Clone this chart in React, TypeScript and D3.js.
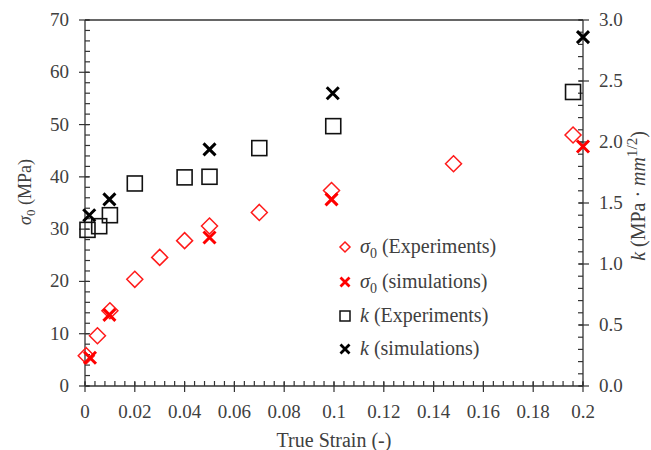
import React, { useEffect, useRef } from "react";
import * as d3 from "d3";

// strain values and measured / simulated quantities
const sigExpStrain = [0.0005, 0.005, 0.01, 0.02, 0.03, 0.04, 0.05, 0.07, 0.099, 0.148, 0.196];
const sigExpVal = [5.8, 9.6, 14.4, 20.4, 24.6, 27.8, 30.6, 33.2, 37.4, 42.5, 48.0];
const sigSimStrain = [0.002, 0.0098, 0.05, 0.099, 0.2];
const sigSimVal = [5.4, 13.6, 28.4, 35.7, 45.8];
const kExpStrain = [0.001, 0.0057, 0.01, 0.02, 0.04, 0.05, 0.07, 0.0997, 0.196];
const kExpVal = [1.28, 1.31, 1.40, 1.66, 1.71, 1.715, 1.95, 2.13, 2.41];
const kSimStrain = [0.0017, 0.0098, 0.05, 0.0995, 0.2];
const kSimVal = [1.40, 1.53, 1.94, 2.40, 2.86];

const xTicks = [0, 0.02, 0.04, 0.06, 0.08, 0.1, 0.12, 0.14, 0.16, 0.18, 0.2];
const yLeftTicks = [0, 10, 20, 30, 40, 50, 60, 70];
const yRightTicks = [0, 0.5, 1.0, 1.5, 2.0, 2.5, 3.0];

const FONT = "'Liberation Serif', 'Times New Roman', serif";
const AX = "#333";
const TXT = "#404040";

function App() {
  const ref = useRef<SVGSVGElement>(null);

  useEffect(() => {
    const svg = d3.select(ref.current);
    svg.selectAll("*").remove();

    const left = 85, right = 583, top = 20, bottom = 386;
    const x = d3.scaleLinear().domain([0, 0.2]).range([left, right]);
    const yL = d3.scaleLinear().domain([0, 70]).range([bottom, top]);
    const yR = d3.scaleLinear().domain([0, 3]).range([bottom, top]);

    const g = svg.append("g");

    // frame: top line + three axes
    g.append("line").attr("x1", left).attr("x2", right).attr("y1", top).attr("y2", top)
      .attr("stroke", AX).attr("stroke-width", 1.3);
    g.append("line").attr("x1", left).attr("x2", left).attr("y1", top).attr("y2", bottom)
      .attr("stroke", AX).attr("stroke-width", 1.3);
    g.append("line").attr("x1", right).attr("x2", right).attr("y1", top).attr("y2", bottom)
      .attr("stroke", AX).attr("stroke-width", 1.3);
    g.append("line").attr("x1", left).attr("x2", right).attr("y1", bottom).attr("y2", bottom)
      .attr("stroke", AX).attr("stroke-width", 1.3);

    // left axis ticks
    const leftMinor = d3.range(0, 70.001, 2);
    g.selectAll(".lmin").data(leftMinor).join("line")
      .attr("x1", left).attr("x2", left + 5)
      .attr("y1", d => yL(d)).attr("y2", d => yL(d))
      .attr("stroke", AX).attr("stroke-width", 1.2);
    g.selectAll(".lmaj").data(yLeftTicks).join("line")
      .attr("x1", left - 6).attr("x2", left + 4)
      .attr("y1", d => yL(d)).attr("y2", d => yL(d))
      .attr("stroke", AX).attr("stroke-width", 1.2);
    g.selectAll(".ltxt").data(yLeftTicks).join("text")
      .attr("x", 69).attr("y", d => yL(d) + 6)
      .attr("text-anchor", "end")
      .style("font-family", FONT).style("font-size", "19px").attr("fill", TXT)
      .text(d => d);

    // right axis ticks
    const rightMinor = d3.range(0, 3.001, 0.1);
    g.selectAll(".rmin").data(rightMinor).join("line")
      .attr("x1", right - 5).attr("x2", right)
      .attr("y1", d => yR(d)).attr("y2", d => yR(d))
      .attr("stroke", AX).attr("stroke-width", 1.2);
    g.selectAll(".rmaj").data(yRightTicks).join("line")
      .attr("x1", right - 4).attr("x2", right + 6)
      .attr("y1", d => yR(d)).attr("y2", d => yR(d))
      .attr("stroke", AX).attr("stroke-width", 1.2);
    g.selectAll(".rtxt").data(yRightTicks).join("text")
      .attr("x", 599).attr("y", d => yR(d) + 6)
      .style("font-family", FONT).style("font-size", "19px").attr("fill", TXT)
      .text(d => d3.format(".1f")(d));

    // bottom axis ticks
    const botMinor = d3.range(0, 0.2001, 0.004);
    g.selectAll(".bmin").data(botMinor).join("line")
      .attr("x1", d => x(d)).attr("x2", d => x(d))
      .attr("y1", bottom - 5).attr("y2", bottom)
      .attr("stroke", AX).attr("stroke-width", 1.2);
    g.selectAll(".bmaj").data(xTicks).join("line")
      .attr("x1", d => x(d)).attr("x2", d => x(d))
      .attr("y1", bottom - 4).attr("y2", bottom + 6)
      .attr("stroke", AX).attr("stroke-width", 1.2);
    g.selectAll(".btxt").data(xTicks).join("text")
      .attr("x", d => x(d)).attr("y", 418)
      .attr("text-anchor", "middle")
      .style("font-family", FONT).style("font-size", "19px").attr("fill", TXT)
      .text(d => (d === 0 ? "0" : String(+d.toFixed(2))));

    // axis titles
    const lt = g.append("text")
      .attr("transform", "translate(31,192) rotate(-90)")
      .attr("text-anchor", "middle")
      .style("font-family", FONT).style("font-size", "18px").attr("fill", TXT);
    lt.append("tspan").style("font-style", "italic").text("σ");
    lt.append("tspan").attr("dy", 4).style("font-size", "13px").text("0");
    lt.append("tspan").attr("dy", -4).text(" (MPa)");

    g.append("text")
      .attr("x", 334).attr("y", 447)
      .attr("text-anchor", "middle")
      .style("font-family", FONT).style("font-size", "20px").attr("fill", TXT)
      .text("True Strain (-)");

    const rt = g.append("text")
      .attr("transform", "translate(645,196) rotate(-90)")
      .attr("text-anchor", "middle")
      .style("font-family", FONT).style("font-size", "20px").attr("fill", TXT);
    rt.append("tspan").style("font-style", "italic").text("k");
    rt.append("tspan").text(" (MPa · ");
    rt.append("tspan").style("font-style", "italic").text("mm");
    rt.append("tspan").attr("dy", -8).style("font-size", "15px").text("1/2");
    rt.append("tspan").attr("dy", 8).text(")");

    // marker helpers
    const diamond = (sel: any, s: number) =>
      sel.attr("d", `M0,${-s}L${s},0L0,${s}L${-s},0Z`);
    const cross = (s: number) => `M${-s},${-s}L${s},${s}M${-s},${s}L${s},${-s}`;

    // k experiments (squares)
    const kE = kExpStrain.map((s, i) => [s, kExpVal[i]]);
    g.selectAll(".kE").data(kE).join("rect")
      .attr("x", d => x(d[0]) - 7.5).attr("y", d => yR(d[1]) - 7.5)
      .attr("width", 15).attr("height", 15)
      .attr("fill", "none").attr("stroke", "#111").attr("stroke-width", 1.6);

    // sigma experiments (diamonds)
    const sE = sigExpStrain.map((s, i) => [s, sigExpVal[i]]);
    diamond(g.selectAll(".sE").data(sE).join("path"), 8)
      .attr("transform", (d: number[]) => `translate(${x(d[0])},${yL(d[1])})`)
      .attr("fill", "none").attr("stroke", "#ff1a1a").attr("stroke-width", 1.5);

    // sigma simulations (red crosses)
    const sS = sigSimStrain.map((s, i) => [s, sigSimVal[i]]);
    g.selectAll(".sS").data(sS).join("path")
      .attr("d", cross(6))
      .attr("transform", d => `translate(${x(d[0])},${yL(d[1])})`)
      .attr("stroke", "#ff0000").attr("stroke-width", 3).attr("fill", "none");

    // k simulations (black crosses)
    const kS = kSimStrain.map((s, i) => [s, kSimVal[i]]);
    g.selectAll(".kS").data(kS).join("path")
      .attr("d", cross(6))
      .attr("transform", d => `translate(${x(d[0])},${yR(d[1])})`)
      .attr("stroke", "#000").attr("stroke-width", 3).attr("fill", "none");

    // legend
    const lx = 345, ly = [247, 282, 316, 349];
    const lg = g.append("g");
    diamond(lg.append("path"), 5)
      .attr("transform", `translate(${lx},${ly[0]})`)
      .attr("fill", "none").attr("stroke", "#ff1a1a").attr("stroke-width", 1.5);
    lg.append("path").attr("d", cross(4.5))
      .attr("transform", `translate(${lx},${ly[1]})`)
      .attr("stroke", "#ff0000").attr("stroke-width", 2.8);
    lg.append("rect").attr("x", lx - 5).attr("y", ly[2] - 5).attr("width", 10).attr("height", 10)
      .attr("fill", "none").attr("stroke", "#111").attr("stroke-width", 1.5);
    lg.append("path").attr("d", cross(4.5))
      .attr("transform", `translate(${lx},${ly[3]})`)
      .attr("stroke", "#000").attr("stroke-width", 2.8);

    const labels: [string, string, boolean][] = [
      ["σ", " (Experiments)", true],
      ["σ", " (simulations)", true],
      ["k", " (Experiments)", false],
      ["k", " (simulations)", false],
    ];
    labels.forEach((l, i) => {
      const t = lg.append("text").attr("x", 360).attr("y", ly[i] + 6)
        .style("font-family", FONT).style("font-size", "20px").attr("fill", TXT);
      t.append("tspan").style("font-style", "italic").text(l[0]);
      if (l[2]) {
        t.append("tspan").attr("dy", 5).style("font-size", "14px").text("0");
        t.append("tspan").attr("dy", -5).text(l[1]);
      } else {
        t.append("tspan").text(l[1]);
      }
    });
  }, []);

  return (
    <svg ref={ref} width={651} height={450}
      style={{ position: "absolute", left: 0, top: 0, background: "#fff" }} />
  );
}

export default App;
